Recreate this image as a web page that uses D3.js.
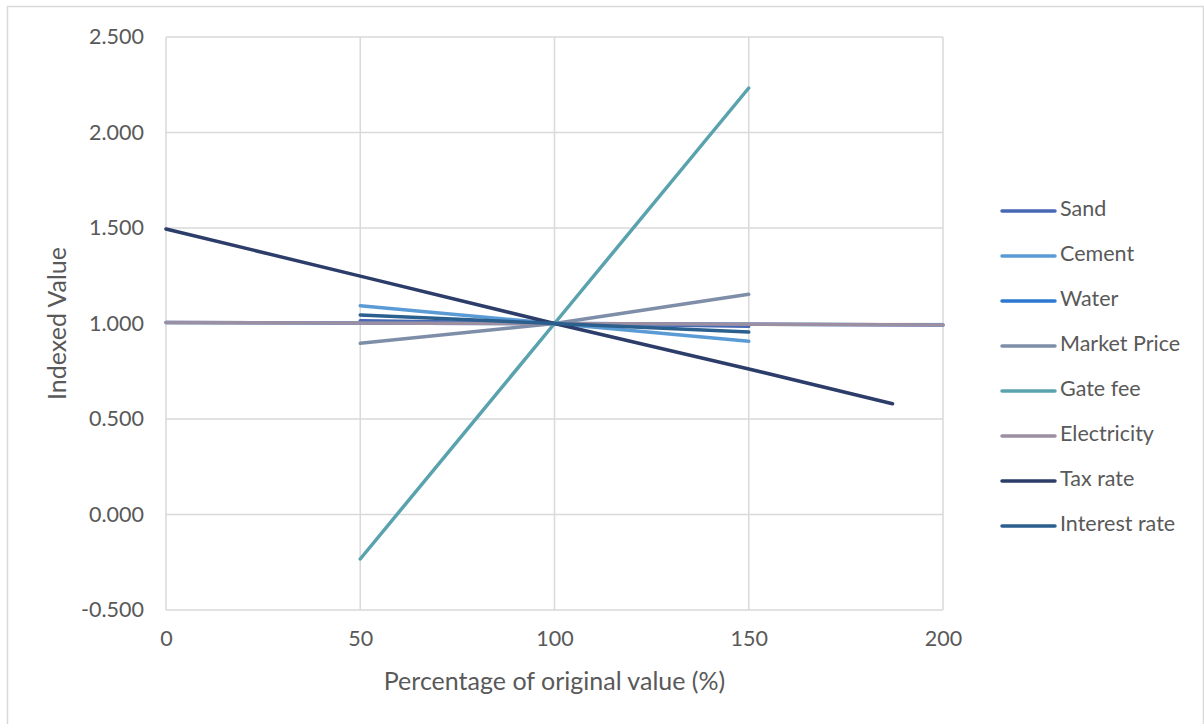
<!DOCTYPE html>
<html>
<head>
<meta charset="utf-8">
<script src="https://cdn.jsdelivr.net/npm/d3@7"></script>
<style>
  html, body { margin: 0; padding: 0; background: #fff; }
  svg { display: block; }
  text { font-family: Lato, "Open Sans", sans-serif; fill: #595959; }
</style>
</head>
<body>
<svg id="chart" width="1204" height="724"></svg>
<script>
// Sensitivity of the indexed value to each input parameter
const seriesNames = ["Sand", "Cement", "Water", "Market Price", "Gate fee", "Electricity", "Tax rate", "Interest rate"];
const seriesColors = ["#4868b4", "#5b9bd5", "#2e78d2", "#7f8ea8", "#5aa3ae", "#9d8fa2", "#2c3d6a", "#2b5f8e"];

const sandX = [50, 100, 150];
const sandY = [1.015, 1.0, 0.985];
const cementX = [50, 100, 150];
const cementY = [1.093, 1.0, 0.907];
const waterX = [0, 100, 200];
const waterY = [1.005, 1.0, 0.992];
const marketPriceX = [50, 100, 150];
const marketPriceY = [0.896, 1.0, 1.153];
const gateFeeX = [50, 100, 150];
const gateFeeY = [-0.233, 1.0, 2.233];
const electricityX = [0, 100, 200];
const electricityY = [1.005, 1.0, 0.992];
const taxRateX = [0, 50, 100, 150, 187];
const taxRateY = [1.495, 1.248, 1.0, 0.762, 0.58];
const interestRateX = [50, 100, 150];
const interestRateY = [1.045, 1.0, 0.955];

const xTicks = [0, 50, 100, 150, 200];
const yTicks = [-0.5, 0, 0.5, 1.0, 1.5, 2.0, 2.5];

const seriesX = [sandX, cementX, waterX, marketPriceX, gateFeeX, electricityX, taxRateX, interestRateX];
const seriesY = [sandY, cementY, waterY, marketPriceY, gateFeeY, electricityY, taxRateY, interestRateY];

const svg = d3.select("#chart");

// outer chart frame
svg.append("rect")
  .attr("x", 7.5).attr("y", 6.5)
  .attr("width", 1196).attr("height", 730)
  .attr("fill", "none").attr("stroke", "#d9d9d9").attr("stroke-width", 1.5);

const plot = { left: 166, right: 943, top: 37, bottom: 610 };

const x = d3.scaleLinear().domain([0, 200]).range([plot.left, plot.right]);
const y = d3.scaleLinear().domain([-0.5, 2.5]).range([plot.bottom, plot.top]);

// gridlines
const grid = svg.append("g");
grid.selectAll("line.h").data(yTicks).join("line")
  .attr("x1", plot.left).attr("x2", plot.right)
  .attr("y1", d => y(d)).attr("y2", d => y(d))
  .attr("stroke", "#d9d9d9").attr("stroke-width", 1.5);
grid.selectAll("line.v").data(xTicks).join("line")
  .attr("y1", plot.top).attr("y2", plot.bottom)
  .attr("x1", d => x(d)).attr("x2", d => x(d))
  .attr("stroke", "#d9d9d9").attr("stroke-width", 1.5);

// axes (labels only)
const fmtY = d => d3.format(".3f")(d).replace("\u2212", "-");
const yAxis = svg.append("g")
  .attr("transform", `translate(${plot.left - 22},0)`)
  .call(d3.axisLeft(y).tickValues(yTicks).tickFormat(fmtY).tickSize(0).tickPadding(0));
yAxis.select(".domain").remove();
yAxis.selectAll("text")
  .style("font-family", "Lato, sans-serif").style("font-size", "21.5px").attr("fill", "#595959");

const xAxis = svg.append("g")
  .attr("transform", `translate(0,${plot.bottom + 21})`)
  .call(d3.axisBottom(x).tickValues(xTicks).tickFormat(d3.format("d")).tickSize(0).tickPadding(0));
xAxis.select(".domain").remove();
xAxis.selectAll("text")
  .attr("dy", "0.71em")
  .style("font-family", "Lato, sans-serif").style("font-size", "21.5px").attr("fill", "#595959");

// axis titles
svg.append("text")
  .attr("x", (plot.left + plot.right) / 2).attr("y", 684)
  .attr("text-anchor", "middle").attr("dominant-baseline", "middle")
  .style("font-size", "25px")
  .text("Percentage of original value (%)");
svg.append("text")
  .attr("transform", `translate(60,${(plot.top + plot.bottom) / 2}) rotate(-90)`)
  .attr("text-anchor", "middle").attr("dominant-baseline", "middle")
  .style("font-size", "25px")
  .text("Indexed Value");

// series lines
const line = d3.line().x(d => x(d[0])).y(d => y(d[1]));
seriesNames.forEach((name, i) => {
  const pts = seriesX[i].map((v, j) => [v, seriesY[i][j]]);
  svg.append("path")
    .datum(pts)
    .attr("d", line)
    .attr("fill", "none")
    .attr("stroke", seriesColors[i])
    .attr("stroke-width", 3.5)
    .attr("stroke-linecap", "round")
    .attr("stroke-linejoin", "round");
});

// legend
const legend = svg.append("g");
seriesNames.forEach((name, i) => {
  const ly = 211 + i * 45;
  legend.append("line")
    .attr("x1", 1002).attr("x2", 1055).attr("y1", ly).attr("y2", ly)
    .attr("stroke", seriesColors[i]).attr("stroke-width", 3.5).attr("stroke-linecap", "round");
  legend.append("text")
    .attr("x", 1060).attr("y", ly)
    .attr("dominant-baseline", "middle")
    .style("font-size", "21.5px")
    .text(name);
});
</script>
</body>
</html>
